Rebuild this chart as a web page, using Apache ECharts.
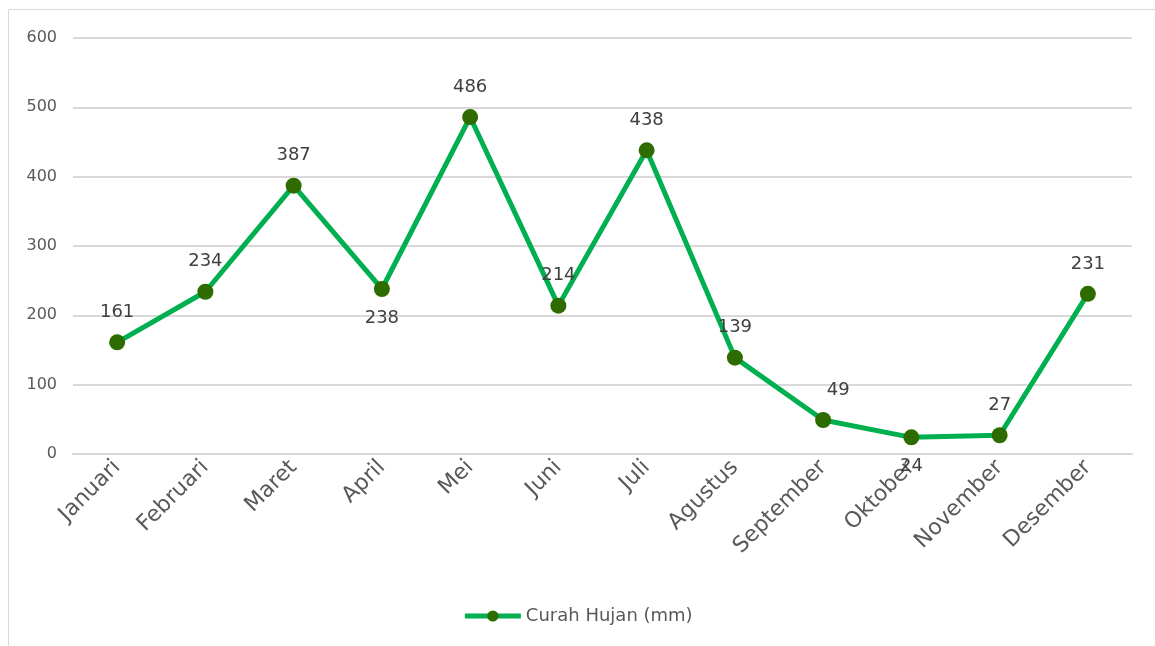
<!DOCTYPE html>
<html>
<head>
<meta charset="utf-8">
<script src="https://cdn.jsdelivr.net/npm/echarts@6/dist/echarts.min.js"></script>
<style>
  html, body { margin: 0; padding: 0; background: #fff; }
  #chart { width: 1155px; height: 646px; }
</style>
</head>
<body>
<div id="chart"></div>
<script>
// data
var months = ['Januari', 'Februari', 'Maret', 'April', 'Mei', 'Juni', 'Juli', 'Agustus', 'September', 'Oktober', 'November', 'Desember']
var rainfall = [161, 234, 387, 238, 486, 214, 438, 139, 49, 24, 27, 231]
var seriesName = 'Curah Hujan (mm)'

// where a label sits differently from the default (above the point)
var labelBelow = ['April', 'Oktober']
var labelRight = ['September']

var fontFamily = '"DejaVu Sans", sans-serif'
var textColor = '#595959'

var points = rainfall.map(function (v, i) {
  var item = { value: v }
  if (labelBelow.indexOf(months[i]) >= 0) {
    item.label = { position: 'bottom', distance: 12 }
  } else if (labelRight.indexOf(months[i]) >= 0) {
    item.label = { position: 'top', offset: [15, 0] }
  }
  return item
})

var myChart = echarts.init(document.getElementById('chart'))
myChart.setOption({
  animation: false,
  textStyle: { fontFamily: fontFamily },
  graphic: [{
    type: 'rect',
    shape: { x: 8.5, y: 9.5, width: 1300, height: 800 },
    style: { fill: 'none', stroke: '#d9d9d9', lineWidth: 1 },
    silent: true
  }],
  grid: { left: 73, right: 23, top: 38, bottom: 192 },
  legend: {
    bottom: 16,
    left: 'center',
    itemWidth: 56,
    itemHeight: 14,
    itemGap: 6,
    lineStyle: { width: 5 },
    textStyle: { color: textColor, fontSize: 18, fontFamily: fontFamily },
    data: [seriesName]
  },
  xAxis: {
    type: 'category',
    data: months,
    boundaryGap: true,
    axisLine: { lineStyle: { color: '#d9d9d9', width: 2 } },
    axisTick: { show: false },
    axisLabel: {
      rotate: 45,
      interval: 0,
      margin: 10,
      color: textColor,
      fontSize: 22,
      fontFamily: fontFamily
    }
  },
  yAxis: {
    type: 'value',
    min: 0,
    max: 600,
    interval: 100,
    axisLine: { show: false },
    axisTick: { show: false },
    splitLine: { lineStyle: { color: '#d9d9d9', width: 2 } },
    axisLabel: { color: textColor, fontSize: 16, margin: 16, fontFamily: fontFamily }
  },
  series: [{
    name: seriesName,
    type: 'line',
    data: points,
    symbol: 'circle',
    symbolSize: 16,
    itemStyle: { color: '#2e6b00' },
    lineStyle: { color: '#00b050', width: 5 },
    label: {
      show: true,
      position: 'top',
      distance: 13,
      color: '#404040',
      fontSize: 18,
      fontFamily: fontFamily
    }
  }]
})
</script>
</body>
</html>
